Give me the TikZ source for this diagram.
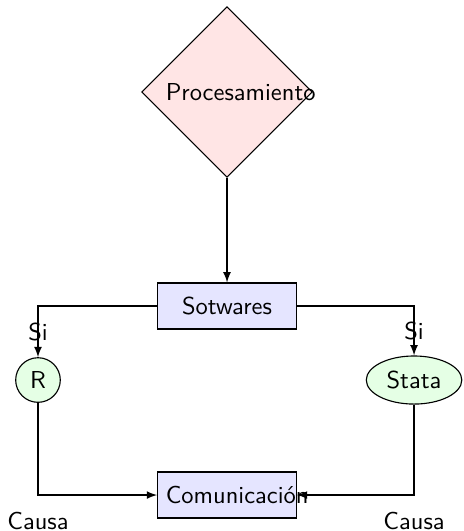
\documentclass[tikz,border=0pt]{standalone}
\usetikzlibrary{shapes.geometric}
\begin{document}
\begin{tikzpicture}[
    decisionbox/.style={diamond, draw, fill=red!10, text width=5em, text badly centered, inner sep=0pt, minimum size=2.45cm, line width=0.016cm},
    softblock/.style={rectangle, draw, fill=blue!10, text width=5em, text centered, minimum height=0.66cm, line width=0.016cm},
    softcircle/.style={circle, draw, fill=green!10, minimum size=0.64cm, inner sep=1pt, line width=0.016cm},
    softellipse/.style={ellipse, draw, fill=green!10, minimum width=1.37cm, minimum height=0.69cm, inner sep=1.5pt, line width=0.016cm},
    flowline/.style={draw, -latex, line width=0.016cm}
  ]
  \useasboundingbox (0,0) rectangle (6.643,-7.618);
  {\sffamily

  % Placing nodes
  \node [decisionbox] (proc) at (3.257,-1.320) {Procesamiento};
  \node [softblock] (sotw) at (3.257,-4.390) {Sotwares};
  \node [softcircle] (rsoft) at (0.545,-5.452) {R};
  \node [softellipse] (stata) at (5.940,-5.452) {Stata};
  \node [softblock] (comu) at (3.257,-7.102) {Comunicación};

  % Drawing segment proc sotw
  \path [flowline] (proc) -- (sotw);

  % Drawing branches Si
  \path [flowline] (sotw) -| node [near end] {Si} (rsoft);
  \path [flowline] (sotw) -| node [near end] {Si} (stata);

  % Drawing branches Causa
  \path [flowline] (rsoft) |- node [below=1.2mm] {Causa} (comu);
  \path [flowline] (stata) |- node [below=1.2mm] {Causa} (comu);
  }
\end{tikzpicture}
\end{document}
